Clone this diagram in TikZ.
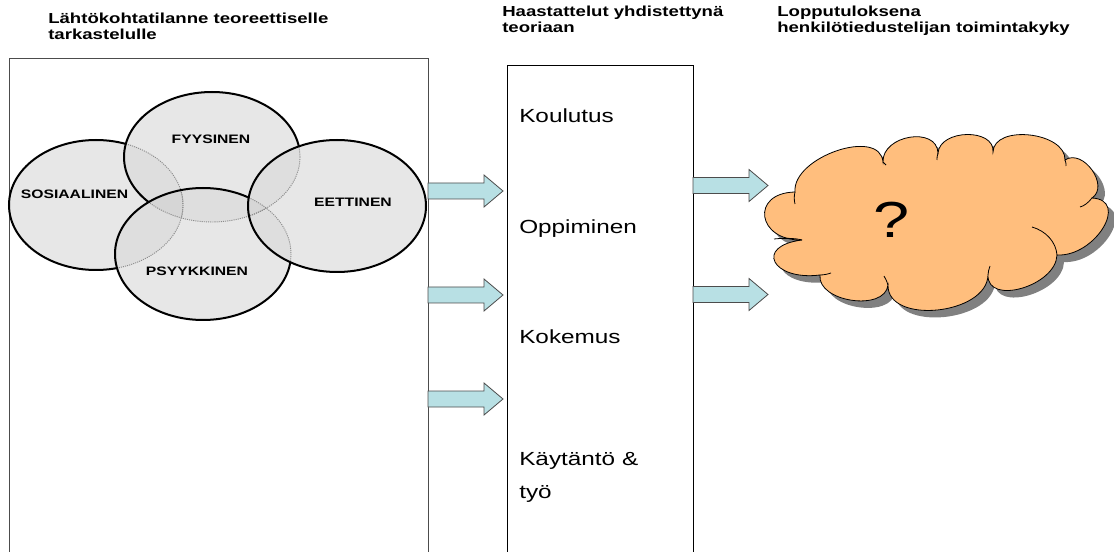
\documentclass[tikz,border=0pt]{standalone}
\usepackage{fontspec}
\setmainfont{Liberation Sans}
\definecolor{arrowfill}{RGB}{184,224,228}
\definecolor{cloudfill}{RGB}{255,190,125}
\newcommand\sx[1]{\scalebox{1.28}[1]{#1}}
\newcommand\cloudpath[1]{\path[#1] (795,192)
  .. controls (792,157) and (880,127) .. (883,162)
  .. controls (882,135) and (937,126) .. (938,153)
  .. controls (940,129) and (995,128) .. (993,152)
  .. controls (994,124) and (1066,132) .. (1065,160)
  .. controls (1083,148) and (1110,186) .. (1092,198)
  .. controls (1130,200) and (1095,257) .. (1057,255)
  .. controls (1056,286) and (987,306) .. (988,275)
  .. controls (987,315) and (887,325) .. (888,285)
  .. controls (885,312) and (817,302) .. (820,275)
  .. controls (772,281) and (754,246) .. (802,240)
  .. controls (757,241) and (750,193) .. cycle;}
\begin{document}
\begin{tikzpicture}[x=0.75pt,y=-0.75pt,
  hdr/.style={font=\fontsize{10.9}{12}\selectfont\bfseries, align=left, anchor=base west, inner sep=0},
  body/.style={font=\fontsize{14.25}{24.75}\selectfont, align=left, anchor=base west, inner sep=0},
  lbl/.style={font=\fontsize{9.2}{11}\selectfont\bfseries, anchor=base, inner sep=0},
  panel/.style={line width=0.8pt, anchor=north west, inner sep=0, rectangle},
  ellbase/.style={fill=black!6},
  ellfill/.style={fill=black, fill opacity=0.035},
  ellline/.style={draw=black, line width=1.5pt},
  elldot/.style={draw=black!45, line width=0.7pt, dash pattern=on 0.8pt off 0.8pt},
  arrowstyle/.style={draw=black!70, line width=0.6pt, fill=arrowfill},
  cloudline/.style={draw=black, line width=0.6pt},
  barrow/.pic={\draw[arrowstyle] (0,-8) -- (56,-8) -- (56,-16) -- (75,0) -- (56,16) -- (56,8) -- (0,8) -- cycle;}
]
\useasboundingbox (0,0) rectangle (1114,552);
\clip (0,0) rectangle (1114,552);

% panels
\node[panel, draw=black!70, minimum width=314.25pt, minimum height=376.5pt] (left) at (9,58) {};
\node[panel, draw=black, minimum width=139.5pt, minimum height=371.25pt] (mid) at (507,65) {};

% headers (anchor = baseline of last line)
\node[hdr] (h1) at (48,40) {\sx{Lähtökohtatilanne teoreettiselle}\\\sx{tarkastelulle}};
\node[hdr] (h2) at (502,33) {\sx{Haastattelut yhdistettynä}\\\sx{teoriaan}};
\node[hdr] (h3) at (777,33) {\sx{Lopputuloksena}\\\sx{henkilötiedustelijan toimintakyky}};

% ellipse fills
\fill[ellbase] (96,205) ellipse [x radius=87, y radius=65];
\fill[ellbase] (212,157) ellipse [x radius=88, y radius=65];
\fill[ellbase] (203,254) ellipse [x radius=88, y radius=66];
\fill[ellbase] (337,206) ellipse [x radius=89, y radius=66];
\fill[ellfill] (96,205) ellipse [x radius=87, y radius=65];
\fill[ellfill] (212,157) ellipse [x radius=88, y radius=65];
\fill[ellfill] (203,254) ellipse [x radius=88, y radius=66];
\fill[ellfill] (337,206) ellipse [x radius=89, y radius=66];

% hidden (dotted) parts
\begin{scope}
  \clip (212,157) ellipse [x radius=88, y radius=65];
  \draw[elldot] (96,205) ellipse [x radius=87, y radius=65];
\end{scope}
\begin{scope}
  \clip (203,254) ellipse [x radius=88, y radius=66];
  \draw[elldot] (96,205) ellipse [x radius=87, y radius=65];
  \draw[elldot] (212,157) ellipse [x radius=88, y radius=65];
\end{scope}
\begin{scope}
  \clip (337,206) ellipse [x radius=89, y radius=66];
  \draw[elldot] (212,157) ellipse [x radius=88, y radius=65];
  \draw[elldot] (203,254) ellipse [x radius=88, y radius=66];
\end{scope}

% visible (solid) parts
\begin{scope}[even odd rule]
  \clip (-10,-10) rectangle (1130,570) (212,157) ellipse [x radius=88, y radius=65];
  \clip (-10,-10) rectangle (1130,570) (203,254) ellipse [x radius=88, y radius=66];
  \draw[ellline] (96,205) ellipse [x radius=87, y radius=65];
\end{scope}
\begin{scope}[even odd rule]
  \clip (-10,-10) rectangle (1130,570) (203,254) ellipse [x radius=88, y radius=66];
  \clip (-10,-10) rectangle (1130,570) (337,206) ellipse [x radius=89, y radius=66];
  \draw[ellline] (212,157) ellipse [x radius=88, y radius=65];
\end{scope}
\begin{scope}[even odd rule]
  \clip (-10,-10) rectangle (1130,570) (337,206) ellipse [x radius=89, y radius=66];
  \draw[ellline] (203,254) ellipse [x radius=88, y radius=66];
\end{scope}
\draw[ellline] (337,206) ellipse [x radius=89, y radius=66];

% ellipse labels
\node[lbl] (sos) at (74.5,199) {\sx{SOSIAALINEN}};
\node[lbl] (fyy) at (211,144) {\sx{FYYSINEN}};
\node[lbl] (eet) at (353,207) {\sx{EETTINEN}};
\node[lbl] (psy) at (197,276) {\sx{PSYYKKINEN}};

% middle texts
\node[body] (koul) at (519,123) {\sx{Koulutus}};
\node[body] (opp) at (519,234) {\sx{Oppiminen}};
\node[body] (kok) at (519,344) {\sx{Kokemus}};
\node[body] (kay) at (519,498) {\sx{Käytäntö \&}\\\sx{työ}};

% block arrows
\pic at (428,191) {barrow};
\pic at (428,295) {barrow};
\pic at (428,399) {barrow};
\pic at (693,185.5) {barrow};
\pic at (693,294.5) {barrow};

% cloud with shadow
\cloudpath{fill=black!50, shift={(7,7)}}
\cloudpath{cloudline, fill=cloudfill}
% inner stubs of the cloud
\draw[cloudline] (1032,227) .. controls (1046,231) and (1056,242) .. (1057,255);
\draw[cloudline] (1092,198) .. controls (1088,203) and (1084,206) .. (1080,207);
\draw[cloudline] (988,275) .. controls (988,272) and (989,269) .. (990,266);
\draw[cloudline] (888,285) .. controls (887,282) and (886,279) .. (884,276);
\draw[cloudline] (802,240) .. controls (795,238) and (783,238) .. (774,239);
\draw[cloudline] (795,192) .. controls (794,196) and (794,200) .. (795,204);
\draw[cloudline] (883,162) .. controls (884,163) and (885,164) .. (886,165);
\draw[cloudline] (938,153) .. controls (937,156) and (937,158) .. (937,160);
\draw[cloudline] (1065,160) .. controls (1066,162) and (1066,164) .. (1066,166);
\draw[cloudline] (820,275) .. controls (824,275) and (828,274) .. (831,273);

\node[font=\fontsize{38}{40}\selectfont, anchor=base, inner sep=0] (q) at (892,238) {\sx{?}};
\end{tikzpicture}
\end{document}
